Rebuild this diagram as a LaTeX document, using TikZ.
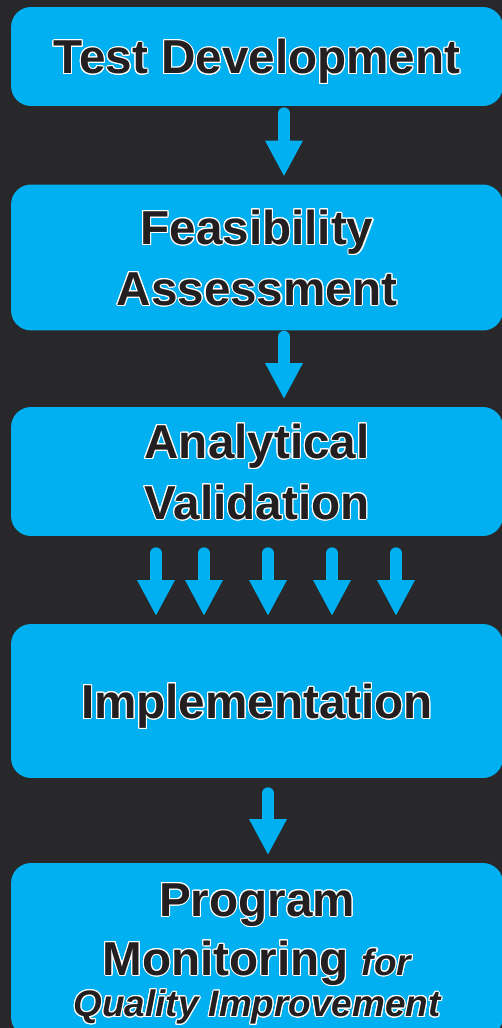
\documentclass[tikz,border=0pt]{standalone}
\usepackage{fontspec}
\setmainfont{Liberation Sans}
\usepackage{contour}
\contourlength{0.6pt}
\usetikzlibrary{arrows.meta}

\definecolor{boxblue}{RGB}{0,176,240}
\definecolor{bgdark}{RGB}{40,40,42}
\definecolor{ink}{RGB}{35,31,32}
\newcommand{\ol}[1]{\contour{white}{#1}}
\newcommand{\smallit}{\fontsize{21}{24}\selectfont\itshape}

\begin{document}
\begin{tikzpicture}[x=0.02cm, y=-0.02cm,
    stage/.style={rectangle, rounded corners=0.4cm, fill=boxblue, minimum width=9.84cm,
      inner sep=0pt, align=center, text=ink, text depth=0pt,
      font=\fontsize{27.1}{34.6}\selectfont\bfseries},
    flow/.style={draw=boxblue, line width=0.24cm, line cap=round,
      -{Triangle[width=0.7cm,length=0.72cm]}}]

  \fill[bgdark] (0,0) rectangle (502,1028);
  \useasboundingbox (0,0) rectangle (502,1028);

  \node[stage, minimum height=1.98cm] (dev)   at (257,56.5) {\ol{Test Development}};
  \node[stage, minimum height=2.92cm] (feas)  at (257,257.5){\ol{Feasibility}\\\ol{Assessment}};
  \node[stage, minimum height=2.58cm] (valid) at (257,471.5){\ol{Analytical}\\\ol{Validation}};
  \node[stage, minimum height=3.08cm] (impl)  at (257,701)  {\ol{Implementation}};
  \node[stage, minimum height=3.48cm] (mon)   at (257,950)
     {\ol{Program}\\[-1pt]\ol{Monitoring} {\smallit\ol{for}}\\[-11pt]{\smallit\ol{Quality Improvement}}};

  \foreach \a/\b/\x/\s in {dev/feas/284/0.14cm, feas/valid/284/0.12cm,
      valid/impl/156/0.34cm, valid/impl/204/0.34cm, valid/impl/268/0.34cm,
      valid/impl/332/0.34cm, valid/impl/396/0.34cm, impl/mon/268/0.3cm}
    \draw[flow, shorten <=\s, shorten >=0.15cm] (\a.south -| \x,0) -- (\b.north -| \x,0);

\end{tikzpicture}
\end{document}
